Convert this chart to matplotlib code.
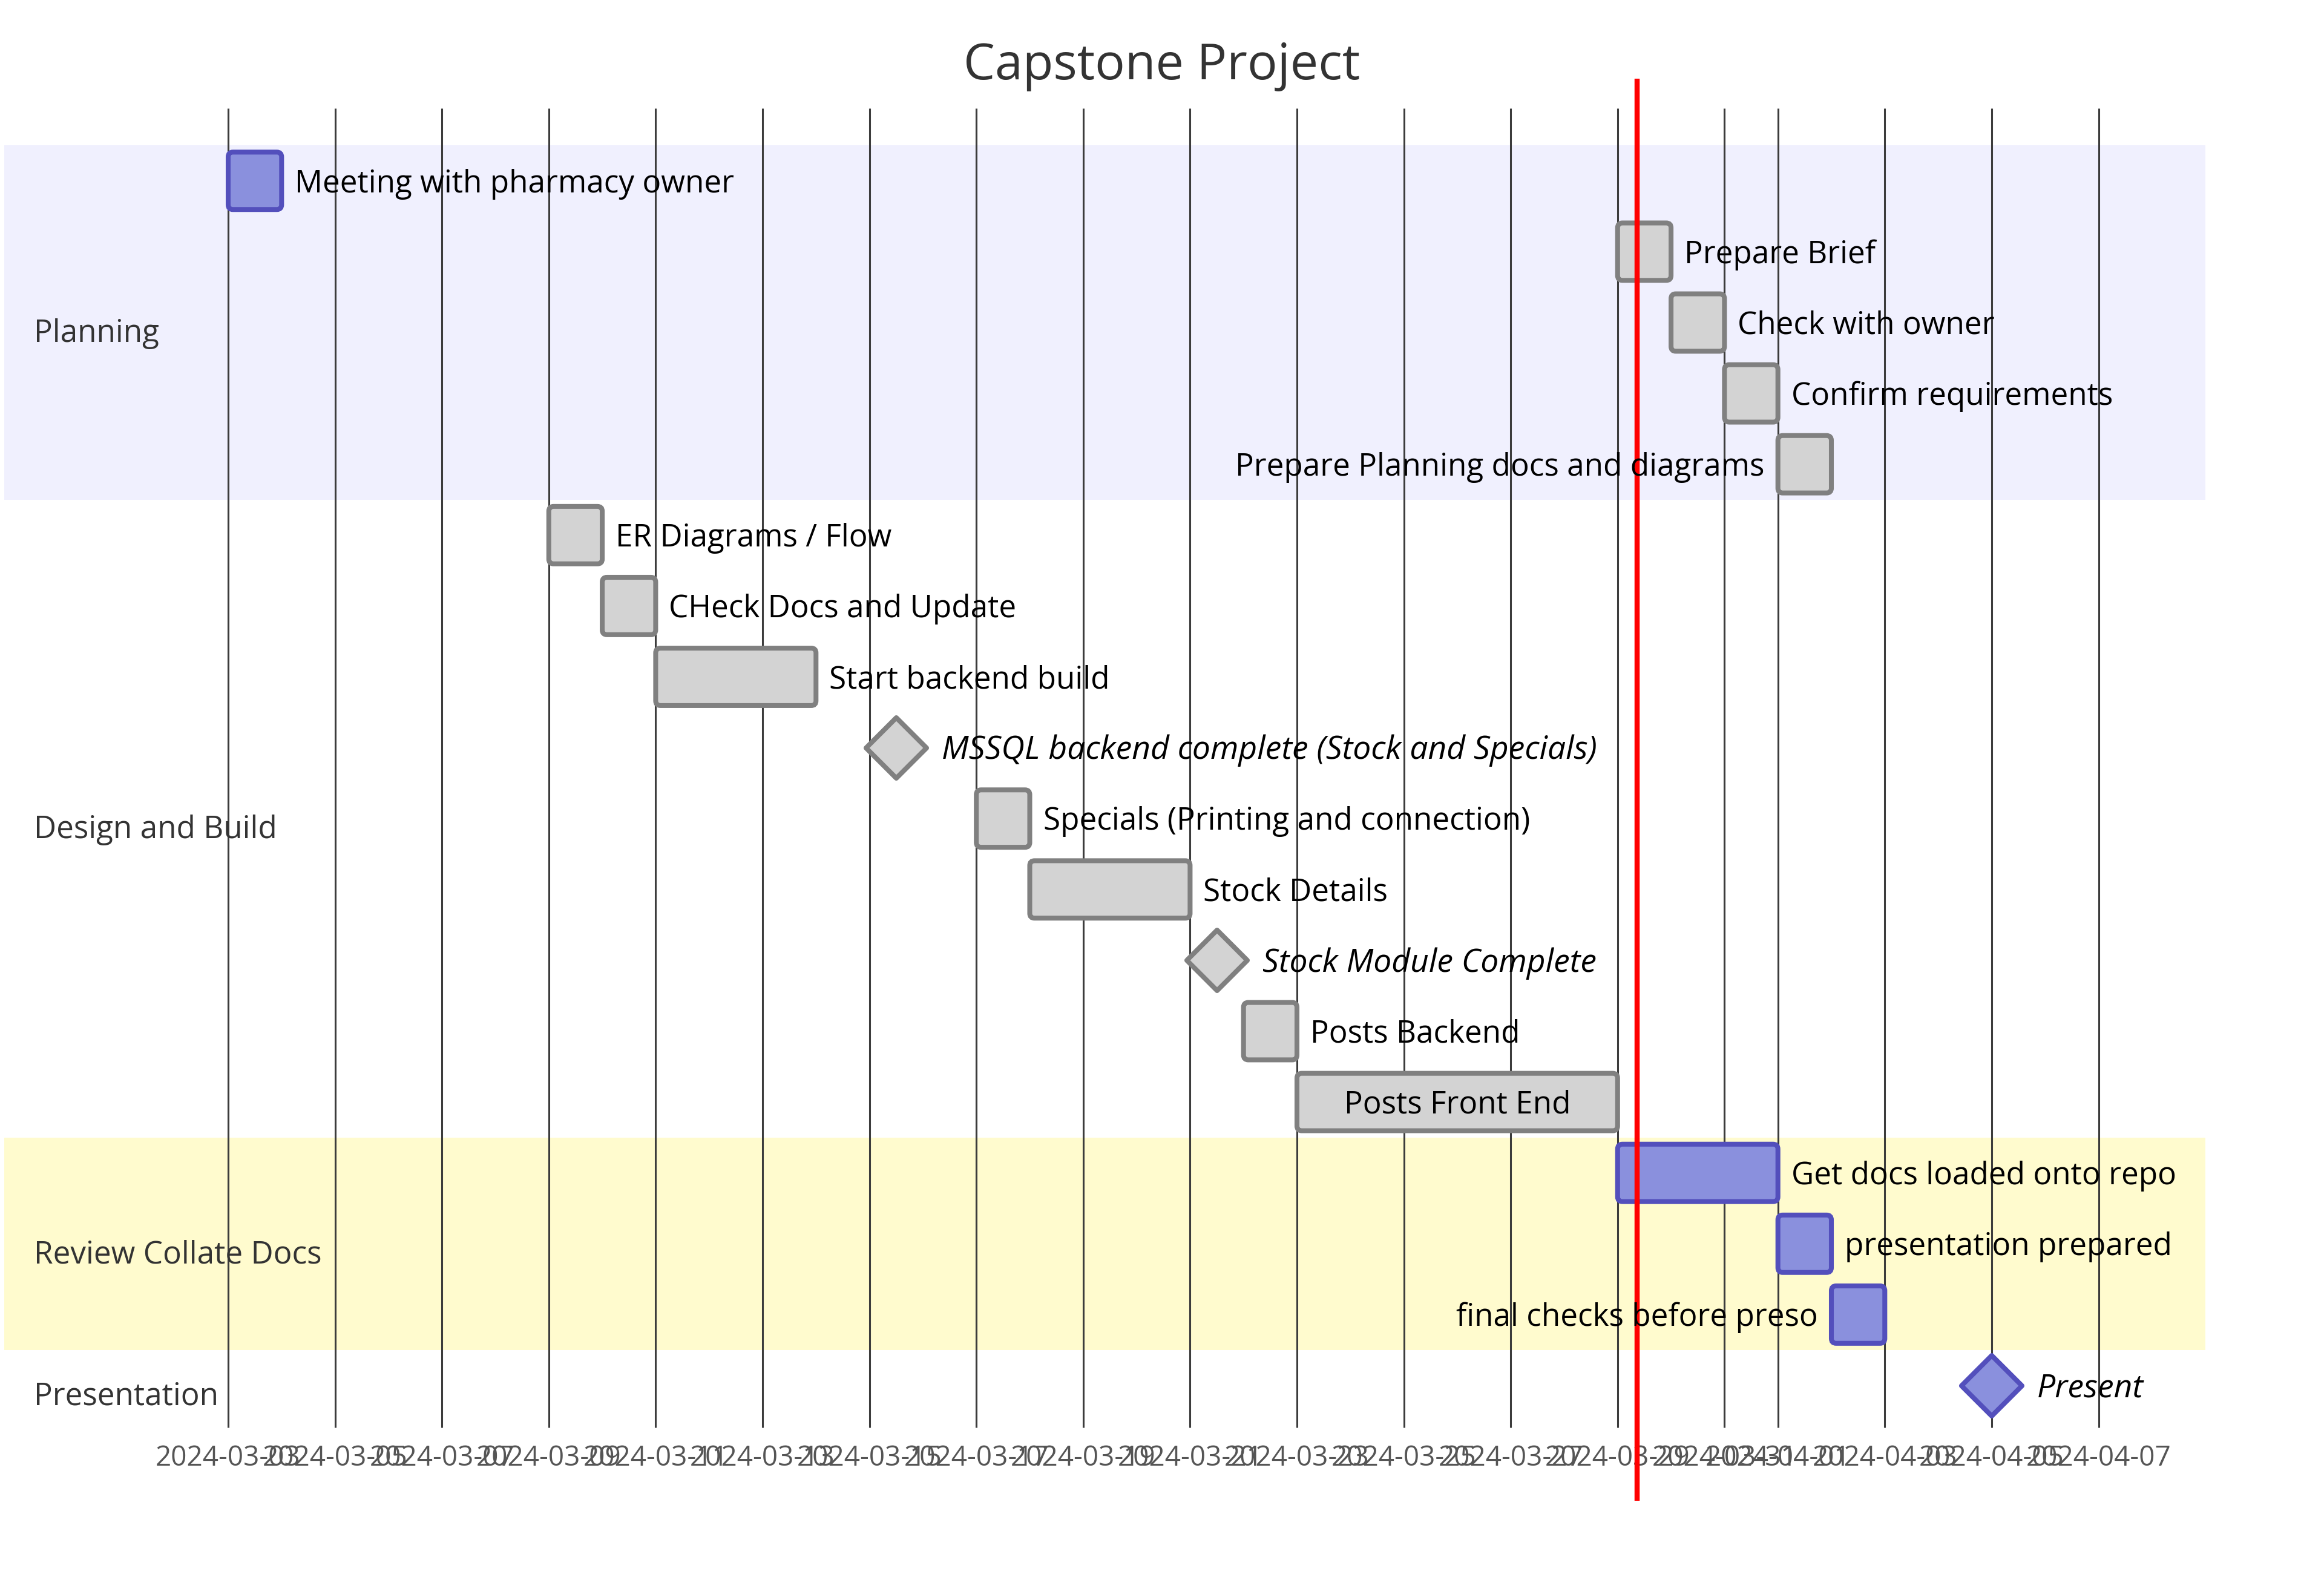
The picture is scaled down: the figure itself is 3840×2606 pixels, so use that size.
import matplotlib
matplotlib.use('Agg')
import matplotlib.pyplot as plt
import matplotlib.dates as mdates
import matplotlib.transforms as mtransforms
from matplotlib.patches import FancyBboxPatch
from matplotlib.markers import MarkerStyle
import pandas as pd

plt.rcParams['font.family'] = ['Open Sans', 'DejaVu Sans']

TITLE = 'Capstone Project'

sections = ['Planning', 'Design and Build', 'Review Collate Docs', 'Presentation']
section_colors = ['#f0f0fe', '#ffffff', '#fffbce', '#ffffff']

task_names = [
    'Meeting with pharmacy owner',
    'Prepare Brief',
    'Check with owner',
    'Confirm requirements',
    'Prepare Planning docs and diagrams',
    'ER Diagrams / Flow',
    'CHeck Docs and Update',
    'Start backend build',
    'MSSQL backend complete (Stock and Specials)',
    'Specials (Printing and connection)',
    'Stock Details',
    'Stock Module Complete',
    'Posts Backend',
    'Posts Front End',
    'Get docs loaded onto repo',
    'presentation prepared',
    'final checks before preso',
    'Present',
]
task_section = [0, 0, 0, 0, 0, 1, 1, 1, 1, 1, 1, 1, 1, 1, 2, 2, 2, 3]
task_start = [
    '2024-03-03', '2024-03-29', '2024-03-30', '2024-03-31', '2024-04-01',
    '2024-03-09', '2024-03-10', '2024-03-11', '2024-03-15 12:00', '2024-03-17',
    '2024-03-18', '2024-03-21 12:00', '2024-03-22', '2024-03-23',
    '2024-03-29', '2024-04-01', '2024-04-02', '2024-04-05',
]
# 0 days = milestone
task_days = [1, 1, 1, 1, 1, 1, 1, 3, 0, 1, 3, 0, 1, 6, 3, 1, 1, 0]
task_done = [False, True, True, True, True, True, True, True, True, True,
             True, True, True, True, False, False, False, False]

TODAY = '2024-03-29 08:40'
AXIS_END = '2024-04-09'

# layout (output pixels)
W, H = 3840, 2606
PX_DAY = 88.3
PX_ROW = 117.1
ROW0_PX = 298.8
FIRST_X_PX = 377

TASK_FILL, TASK_EDGE = '#8a90dd', '#534fbc'
DONE_FILL, DONE_EDGE = '#d3d3d3', '#808080'
BAR_H = 0.81
BASE_OFF = 0.16
FS_TASK = 36.9
FS_MILE = 38.4

fig = plt.figure(figsize=(W / 100, H / 100), dpi=100)
ax = fig.add_axes([0, 0, 1, 1])
ax.axis('off')

starts = [mdates.date2num(pd.Timestamp(s)) for s in task_start]
axis_start = min(starts)
axis_end = mdates.date2num(pd.Timestamp(AXIS_END))
x0 = axis_start - FIRST_X_PX / PX_DAY
ax.set_xlim(x0, x0 + W / PX_DAY)
ax.set_ylim((H - ROW0_PX) / PX_ROW, -ROW0_PX / PX_ROW)

blend = mtransforms.blended_transform_factory(ax.transAxes, ax.transData)
band_left = 7 / W
band_right = (axis_end - x0) / (W / PX_DAY)

# section bands and labels
for k, (name, col) in enumerate(zip(sections, section_colors)):
    rows = [i for i, s in enumerate(task_section) if s == k]
    y0, y1 = min(rows) - 0.5, max(rows) + 0.5
    ax.axhspan(y0, y1, xmin=band_left, xmax=band_right, color=col, lw=0, zorder=0)
    ax.text(56 / W, (y0 + y1) / 2 + 0.273, name, transform=blend,
            fontsize=FS_TASK, color='#333333', va='baseline', ha='left', zorder=3)

# grid + tick labels
locator = mdates.DayLocator(bymonthday=range(1, 32, 2))
ticks = [t for t in locator.tick_values(mdates.num2date(axis_start), mdates.num2date(axis_end))
         if axis_start <= t <= axis_end - 1.5]
ax.vlines(ticks, -1.02, 17.59, color='#3c3c3c', lw=2.2, zorder=1)
fmt = mdates.DateFormatter('%Y-%m-%d')
for t in ticks:
    ax.text(t, 18.13, fmt(t), ha='center', va='baseline', fontsize=33,
            color='#555555', zorder=3)

# tasks
renderer = fig.canvas.get_renderer()
right_px = ax.transData.transform((axis_end, 0))[0]
for i, (name, s, days, done) in enumerate(zip(task_names, starts, task_days, task_done)):
    fc, ec = (DONE_FILL, DONE_EDGE) if done else (TASK_FILL, TASK_EDGE)
    if days == 0:
        ax.plot([s], [i], linestyle='none', marker=MarkerStyle('D', joinstyle='round'),
                ms=51, mfc=fc, mec=ec, mew=5.8, zorder=4)
        ax.annotate(name, (s, i + BASE_OFF), xytext=(75, 0), textcoords='offset pixels',
                    style='italic', fontsize=FS_MILE, va='baseline', ha='left', zorder=6)
        continue
    ax.add_patch(FancyBboxPatch((s, i - BAR_H / 2), days, BAR_H,
                                boxstyle='round,pad=0,rounding_size=0.09',
                                mutation_aspect=PX_DAY / PX_ROW,
                                fc=fc, ec=ec, lw=5.8, zorder=4))
    t = ax.annotate(name, (s + days, i + BASE_OFF), xytext=(22, 0), textcoords='offset pixels',
                    fontsize=FS_TASK, va='baseline', ha='left', zorder=6)
    bb = t.get_window_extent(renderer)
    if bb.width < days * PX_DAY:
        t.xy = (s + days / 2, i + BASE_OFF)
        t.xyann = (0, 0)
        t.set_ha('center')
    elif bb.x1 > right_px:
        t.xy = (s, i + BASE_OFF)
        t.xyann = (-22, 0)
        t.set_ha('right')

# today marker
ax.vlines([mdates.date2num(pd.Timestamp(TODAY))], -1.44, 18.63, color='red', lw=6.1, zorder=5)

fig.text(0.5, 1 - 131 / H, TITLE, ha='center', va='baseline', fontsize=59.5, color='#333333')

fig.savefig('out.png', dpi=100, facecolor='white')
